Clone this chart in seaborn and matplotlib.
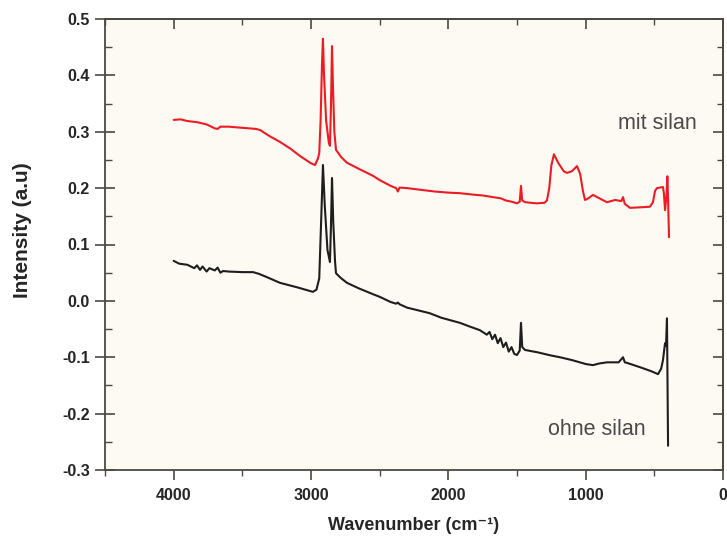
import numpy as np
import pandas as pd
import matplotlib
matplotlib.use("Agg")
import matplotlib.pyplot as plt
import seaborn as sns
from matplotlib.ticker import MultipleLocator, FormatStrFormatter

# IR spectra (wavenumber in cm-1, intensity a.u.)
mit_x = [4000, 3950, 3900, 3830, 3760, 3700, 3680, 3660, 3600, 3500, 3400, 3370,
         3300, 3226, 3150, 3080, 3000, 2971, 2950, 2940, 2930, 2920, 2913, 2905,
         2890, 2870, 2862, 2855, 2847, 2840, 2830, 2818, 2780, 2738, 2650, 2550,
         2498, 2420, 2380, 2367, 2355, 2300, 2200, 2100, 2000, 1915, 1800, 1750,
         1675, 1620, 1580, 1540, 1500, 1480, 1471, 1462, 1440, 1400, 1355, 1300,
         1282, 1265, 1250, 1231, 1200, 1160, 1136, 1100, 1063, 1040, 1020, 1005,
         980, 947, 900, 845, 800, 786, 740, 728, 715, 677, 600, 532, 510, 495,
         481, 437, 430, 422, 412, 405, 400, 393]
mit_y = [0.321, 0.322, 0.319, 0.317, 0.313, 0.306, 0.305, 0.309, 0.309, 0.307, 0.305, 0.303,
         0.292, 0.282, 0.270, 0.257, 0.244, 0.241, 0.252, 0.262, 0.320, 0.420, 0.465, 0.400,
         0.320, 0.280, 0.275, 0.340, 0.452, 0.380, 0.300, 0.268, 0.255, 0.245, 0.234, 0.222,
         0.214, 0.204, 0.200, 0.194, 0.201, 0.200, 0.197, 0.194, 0.192, 0.191, 0.188, 0.187,
         0.184, 0.182, 0.178, 0.176, 0.173, 0.176, 0.204, 0.178, 0.175, 0.174, 0.173, 0.174,
         0.178, 0.200, 0.240, 0.260, 0.245, 0.230, 0.227, 0.230, 0.239, 0.225, 0.195, 0.179,
         0.182, 0.188, 0.182, 0.175, 0.178, 0.179, 0.177, 0.184, 0.172, 0.165, 0.166, 0.167, 0.175, 0.195,
         0.200, 0.202, 0.190, 0.161, 0.185, 0.221, 0.180, 0.113]

ohne_x = [4000, 3960, 3900, 3850, 3830, 3808, 3790, 3760, 3740, 3700, 3680, 3660,
          3640, 3600, 3500, 3422, 3380, 3320, 3226, 3100, 2986, 2960, 2940, 2925,
          2913, 2900, 2880, 2862, 2855, 2847, 2838, 2825, 2818, 2780, 2738, 2650,
          2550, 2498, 2420, 2380, 2367, 2355, 2300, 2200, 2134, 2050, 1915, 1850,
          1770, 1720, 1700, 1680, 1660, 1640, 1620, 1600, 1580, 1560, 1540, 1520,
          1500, 1480, 1471, 1462, 1442, 1400, 1355, 1250, 1187, 1100, 1000, 947,
          900, 845, 760, 728, 715, 699, 600, 520, 473, 450, 437, 422, 415, 408, 400]
ohne_y = [0.071, 0.066, 0.064, 0.058, 0.063, 0.055, 0.061, 0.052, 0.058, 0.054, 0.059, 0.050,
          0.053, 0.052, 0.051, 0.051, 0.048, 0.042, 0.032, 0.024, 0.016, 0.020, 0.040, 0.150,
          0.241, 0.170, 0.090, 0.069, 0.130, 0.218, 0.140, 0.070, 0.049, 0.040, 0.032, 0.022,
          0.012, 0.007, -0.002, -0.005, -0.003, -0.006, -0.012, -0.018, -0.022, -0.030, -0.039, -0.045,
          -0.052, -0.060, -0.055, -0.068, -0.060, -0.075, -0.066, -0.082, -0.074, -0.090, -0.082, -0.094,
          -0.096, -0.088, -0.039, -0.082, -0.087, -0.089, -0.091, -0.097, -0.100, -0.105, -0.112, -0.114,
          -0.111, -0.109, -0.109, -0.100, -0.109, -0.110, -0.118, -0.125, -0.130, -0.120, -0.105, -0.075, -0.080, -0.031, -0.257]

sns.set_style("ticks")
plt.rcParams["font.family"] = ["Liberation Sans", "DejaVu Sans"]
plt.rcParams["axes.unicode_minus"] = False

edge = "#4a4a42"
fig = plt.figure(figsize=(7.27, 5.42), dpi=100)
ax = fig.add_axes([105 / 727, 1 - 470 / 542, 618 / 727, 451 / 542])
ax.set_facecolor("#fdf9f3")

mit = pd.DataFrame({"wn": mit_x, "int": mit_y})
ohne = pd.DataFrame({"wn": ohne_x, "int": ohne_y})
sns.lineplot(data=mit, x="wn", y="int", color="#ec1c24", lw=1.5, sort=False, estimator=None, ax=ax)
sns.lineplot(data=ohne, x="wn", y="int", color="#1e1e1e", lw=1.5, sort=False, estimator=None, ax=ax)

ax.set_xlim(4500, 0)
ax.set_ylim(-0.3, 0.5)
ax.xaxis.set_major_locator(MultipleLocator(1000))
ax.xaxis.set_minor_locator(MultipleLocator(500))
ax.yaxis.set_major_locator(MultipleLocator(0.1))
ax.yaxis.set_minor_locator(MultipleLocator(0.05))
ax.yaxis.set_major_formatter(FormatStrFormatter("%.1f"))

for s in ax.spines.values():
    s.set_color(edge)
    s.set_linewidth(1.3)

ax.tick_params(axis="x", which="major", direction="out", length=7, width=1.2, color=edge,
               labelsize=11.5, pad=6)
ax.tick_params(axis="x", which="minor", direction="out", length=4, width=1.0, color=edge)
ax.tick_params(axis="y", which="major", direction="inout", length=14, width=1.2, color=edge,
               labelsize=11.5, pad=4)
ax.tick_params(axis="y", which="minor", direction="in", length=5, width=1.0, color=edge)
for lab in ax.get_xticklabels() + ax.get_yticklabels():
    lab.set_fontweight("heavy")

top = ax.secondary_xaxis("top")
top.xaxis.set_major_locator(MultipleLocator(1000))
top.xaxis.set_minor_locator(MultipleLocator(500))
top.tick_params(which="major", direction="in", length=7, width=1.2, color=edge, labeltop=False)
top.tick_params(which="minor", direction="in", length=4, width=1.0, color=edge)
right = ax.secondary_yaxis("right")
right.yaxis.set_major_locator(MultipleLocator(0.1))
right.yaxis.set_minor_locator(MultipleLocator(0.05))
right.tick_params(which="major", direction="in", length=7, width=1.2, color=edge, labelright=False)
right.tick_params(which="minor", direction="in", length=4, width=1.0, color=edge)
for sec in (top, right):
    for s in sec.spines.values():
        s.set_color(edge)
        s.set_linewidth(1.3)

ax.set_xlabel("Wavenumber (cm\u207b\u00b9)", fontsize=13, fontweight="heavy", labelpad=10)
ax.set_ylabel("Intensity (a.u)", fontsize=15, fontweight="heavy")
ax.yaxis.set_label_coords(-0.118, 0.532)

ax.text(765, 0.314, "mit silan", fontsize=15.5, color="#4a4a4a", va="center")
ax.text(1274, -0.229, "ohne silan", fontsize=15.5, color="#4a4a4a", va="center")

fig.savefig("out.png", dpi=100)
